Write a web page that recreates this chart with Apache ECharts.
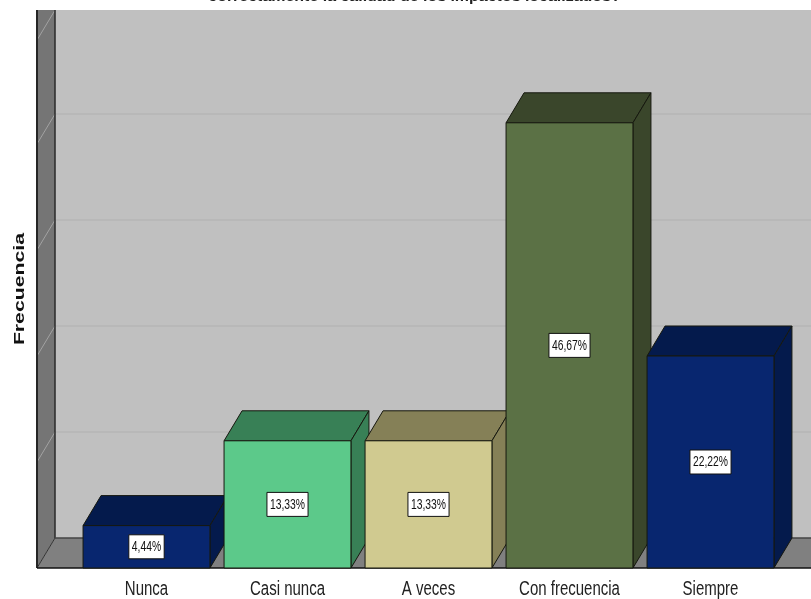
<!DOCTYPE html>
<html>
<head>
<meta charset="utf-8">
<style>html,body{margin:0;padding:0;background:#fff}#c{width:811px;height:599px}</style>
<script src="https://cdn.jsdelivr.net/npm/echarts@6/dist/echarts.min.js"></script>
</head>
<body>
<div id="c"></div>
<script>
const categories = ['Nunca', 'Casi nunca', 'A veces', 'Con frecuencia', 'Siempre'];
const frequencies = [2, 6, 6, 21, 10];
const percentLabels = ['4,44%', '13,33%', '13,33%', '46,67%', '22,22%'];
const frontColors = ['#08266f', '#5cc98a', '#d0ca90', '#5b7145', '#08266f'];
const sideColors = ['#041a4c', '#388056', '#858057', '#3a462b', '#041a4c'];
const gridTicks = [5, 10, 15, 20];
const titleText = 'correctamente la calidad de los impactos localizados?';
const yName = 'Frecuencia';

const DX = 18, DY = -30, WALL_TOP = 24.9;
const FONT = '"Liberation Sans", Arial, sans-serif';
const LABEL_FONT = '15px ' + FONT, LABEL_SX = 0.69;
const measure = document.createElement('canvas').getContext('2d');
const chart = echarts.init(document.getElementById('c'), null, {renderer: 'canvas'});

function poly(points, fill, stroke, width) {
  return {type: 'polygon', shape: {points}, style: {fill, stroke: stroke || null, lineWidth: width || 0}};
}
function seg(x1, y1, x2, y2, stroke, width) {
  return {type: 'line', shape: {x1, y1, x2, y2}, style: {stroke, lineWidth: width, fill: null}};
}
function stretched(text, x, y, font, fill, sx, rotation, z2) {
  return {
    type: 'text', x, y, scaleX: sx, scaleY: 1, rotation: rotation || 0, z2: z2 || 5,
    style: {x: 0, y: 0, text, font, fill, align: 'center', verticalAlign: 'middle'}
  };
}

function renderWalls(params, api) {
  const cs = params.coordSys;
  const fl = cs.x - 39, fr = cs.x + cs.width + 40;
  const y0 = api.coord([0, 0])[1];
  const yT = api.coord([0, WALL_TOP])[1];
  const bl = fl + DX;
  const children = [
    poly([[bl, y0 + DY], [fr, y0 + DY], [fr, yT + DY], [bl, yT + DY]], '#c0c0c0'),
    poly([[fl, y0], [bl, y0 + DY], [bl, yT + DY], [fl, yT + DY]], '#757575'),
    poly([[fl, y0], [fr, y0], [fr, y0 + DY], [bl, y0 + DY]], '#808080')
  ];
  gridTicks.forEach(function (t) {
    const y = api.coord([0, t])[1];
    children.push(seg(bl, y + DY, fr, y + DY, '#b6b6b6', 1.5));
    children.push(seg(fl, y, bl, y + DY, '#a2a2a2', 1));
  });
  const yc = api.coord([0, WALL_TOP])[1];
  children.push(seg(fl, yc, bl, yc + DY, '#a2a2a2', 1));
  children.push(seg(bl, y0 + DY, bl, yT + DY, '#2a2a2a', 1.5));
  children.push(seg(bl, y0 + DY, fr, y0 + DY, '#444444', 1.5));
  children.push(seg(fl, y0, bl, y0 + DY, '#333333', 1));
  children.push(seg(fl, y0, fl, yT + DY, '#262626', 2));
  children.push(seg(fl, y0, fr, y0, '#111111', 1.5));
  children.push(stretched(yName, fl - 17, (y0 + yT) / 2 - 15, 'bold 15.5px ' + FONT, '#111', 1.37, Math.PI / 2));
  children.push(stretched(titleText, cs.x + cs.width / 2 - 14, -2, 'bold 12px ' + FONT, '#222', 1.33));
  return {type: 'group', children};
}

function renderBar(params, api) {
  const i = api.value(0);
  const v = api.value(1);
  const c = api.coord([i, v]);
  const b = api.coord([i, 0]);
  const w = api.size([1, 0])[0] * 0.9;
  const l = c[0] - w / 2, r = c[0] + w / 2;
  const line = '#16180f';
  const midY = (c[1] + b[1]) / 2;
  measure.font = LABEL_FONT;
  const boxW = measure.measureText(percentLabels[i]).width * LABEL_SX + 6;
  const children = [
    poly([[l, c[1]], [r, c[1]], [r + DX, c[1] + DY], [l + DX, c[1] + DY]], sideColors[i], line, 1),
    poly([[r, c[1]], [r + DX, c[1] + DY], [r + DX, b[1] + DY], [r, b[1]]], sideColors[i], line, 1),
    poly([[l, c[1]], [r, c[1]], [r, b[1]], [l, b[1]]], frontColors[i], line, 1),
    {
      type: 'rect', shape: {x: c[0] - boxW / 2, y: midY - 12, width: boxW, height: 24},
      style: {fill: '#fff', stroke: '#111', lineWidth: 1}, z2: 4
    },
    stretched(percentLabels[i], c[0], midY, LABEL_FONT, '#111', LABEL_SX),
    stretched(categories[i], c[0], b[1] + 21, '20px ' + FONT, '#222', 0.75)
  ];
  return {type: 'group', children};
}

chart.setOption({
  animation: false,
  backgroundColor: '#fff',
  grid: {left: 76, top: 38, width: 705, height: 530},
  xAxis: {
    type: 'category', data: categories,
    axisLine: {show: false}, axisTick: {show: false}, axisLabel: {show: false}
  },
  yAxis: {
    type: 'value', min: 0, max: 25, interval: 5,
    axisLabel: {show: false}, axisLine: {show: false},
    axisTick: {show: false}, splitLine: {show: false}
  },
  series: [
    {type: 'custom', clip: false, z: 1, silent: true, renderItem: renderWalls, data: [[0, 0]], encode: {x: 0, y: 1}},
    {type: 'custom', clip: false, z: 2, renderItem: renderBar,
     data: frequencies.map(function (v, i) { return [i, v]; }), encode: {x: 0, y: 1}}
  ]
});
</script>
</body>
</html>
